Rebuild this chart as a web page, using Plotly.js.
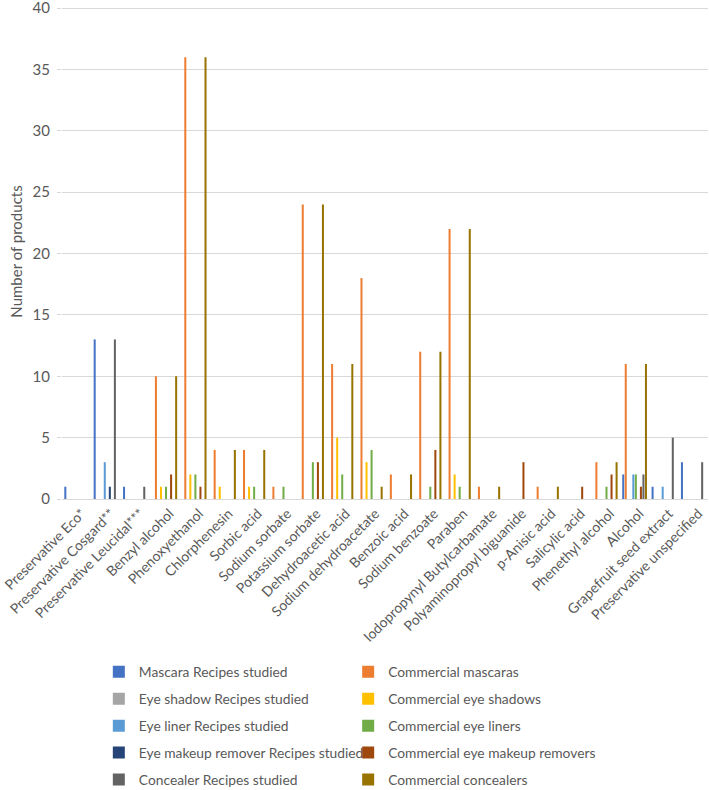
<!DOCTYPE html>
<html>
<head>
<meta charset="utf-8">
<script src="https://cdn.plot.ly/plotly-3.0.1.min.js"></script>
<style>
  html, body { margin: 0; padding: 0; background: #fff; }
  #chartDiv { width: 709px; height: 790px; }
</style>
</head>
<body>
<div id="chartDiv"></div>
<script>
// preservatives on the x axis
var preservatives = ['Preservative Eco*', 'Preservative Cosgard**', 'Preservative Leucidal***',
  'Benzyl alcohol', 'Phenoxyethanol', 'Chlorphenesin', 'Sorbic acid', 'Sodium sorbate',
  'Potassium sorbate', 'Dehydroacetic acid', 'Sodium dehydroacetate', 'Benzoic acid',
  'Sodium benzoate', 'Paraben', 'Iodopropynyl Butylcarbamate', 'Polyaminopropyl biguanide',
  'p-Anisic acid', 'Salicylic acid', 'Phenethyl alcohol', 'Alcohol', 'Grapefruit seed extract',
  'Preservative unspecified'];

// number of products, one value per preservative
var mascaraRecipes    = [1, 13, 1, 0, 0, 0, 0, 0, 0, 0, 0, 0, 0, 0, 0, 0, 0, 0, 0, 2, 1, 3];
var commMascaras      = [0, 0, 0, 10, 36, 4, 4, 1, 24, 11, 18, 2, 12, 22, 1, 0, 1, 0, 3, 11, 0, 0];
var shadowRecipes     = [0, 0, 0, 0, 0, 0, 0, 0, 0, 0, 0, 0, 0, 0, 0, 0, 0, 0, 0, 0, 0, 0];
var commShadows       = [0, 0, 0, 1, 2, 1, 1, 0, 0, 5, 3, 0, 0, 2, 0, 0, 0, 0, 0, 0, 0, 0];
var linerRecipes      = [0, 3, 0, 0, 0, 0, 0, 0, 0, 0, 0, 0, 0, 0, 0, 0, 0, 0, 0, 2, 1, 0];
var commLiners        = [0, 0, 0, 1, 2, 0, 1, 1, 3, 2, 4, 0, 1, 1, 0, 0, 0, 0, 1, 2, 0, 0];
var removerRecipes    = [0, 1, 0, 0, 0, 0, 0, 0, 0, 0, 0, 0, 0, 0, 0, 0, 0, 0, 0, 0, 0, 0];
var commRemovers      = [0, 0, 0, 2, 1, 0, 0, 0, 3, 0, 0, 0, 4, 0, 0, 3, 0, 1, 2, 1, 0, 0];
var concealerRecipes  = [0, 13, 1, 0, 0, 0, 0, 0, 0, 0, 0, 0, 0, 0, 0, 0, 0, 0, 0, 2, 5, 3];
var commConcealers    = [0, 0, 0, 10, 36, 4, 4, 0, 24, 11, 1, 2, 12, 22, 1, 0, 1, 0, 3, 11, 0, 0];

var seriesNames = ['Mascara Recipes studied', 'Commercial mascaras',
  'Eye shadow Recipes studied', 'Commercial eye shadows',
  'Eye liner Recipes studied', 'Commercial eye liners',
  'Eye makeup remover Recipes studied', 'Commercial eye makeup removers',
  'Concealer Recipes studied', 'Commercial concealers'];
var seriesValues = [mascaraRecipes, commMascaras, shadowRecipes, commShadows, linerRecipes,
  commLiners, removerRecipes, commRemovers, concealerRecipes, commConcealers];
var seriesColors = ['#4472C4', '#ED7D31', '#A5A5A5', '#FFC000', '#5B9BD5',
  '#70AD47', '#264478', '#9E480E', '#636363', '#997300'];

var textGrey = '#595959';

// recipes go in the left legend column, commercial products in the right one
var dataBars = seriesNames.map(function (name, i) {
  return {
    type: 'bar',
    name: name,
    x: preservatives,
    y: seriesValues[i],
    legend: (i % 2 === 0) ? 'legend' : 'legend2',
    legendgroup: 'g' + i,
    marker: { color: seriesColors[i], line: { width: 0 } }
  };
});

var legendBase = {
  orientation: 'v',
  xanchor: 'left',
  y: -0.3178,
  yanchor: 'top',
  traceorder: 'grouped',
  tracegroupgap: 6,
  bgcolor: 'rgba(0,0,0,0)',
  font: { size: 13.8, color: textGrey }
};

var layoutBars = {
  width: 709,
  height: 790,
  margin: { l: 62, r: 1, t: 4, b: 291, autoexpand: false },
  paper_bgcolor: '#fff',
  plot_bgcolor: '#fff',
  font: { family: 'Lato, "Open Sans", sans-serif', size: 14, color: textGrey },
  barmode: 'group',
  bargap: 0.14,
  bargroupgap: 0.2,
  xaxis: {
    tickangle: -45,
    tickfont: { size: 14, color: textGrey },
    ticklabelshift: 5,
    showline: true,
    linecolor: '#D9D9D9',
    linewidth: 1,
    ticks: '',
    automargin: false
  },
  yaxis: {
    range: [0, 40.33],
    tickvals: [0, 5, 10, 15, 20, 25, 30, 35, 40],
    gridcolor: '#D9D9D9',
    gridwidth: 1,
    zeroline: false,
    ticks: 'outside',
    ticklen: 4,
    tickcolor: '#D9D9D9',
    ticklabelstandoff: 4,
    ticklabeloverflow: 'allow',
    tickfont: { size: 15, color: textGrey },
    title: { text: 'Number of products', font: { size: 15, color: textGrey } },
    automargin: false
  },
  showlegend: true,
  legend: Object.assign({}, legendBase, { x: 0.057 }),
  legend2: Object.assign({}, legendBase, { x: 0.443 })
};

Plotly.newPlot('chartDiv', dataBars, layoutBars, { displayModeBar: false, staticPlot: true });
</script>
</body>
</html>
